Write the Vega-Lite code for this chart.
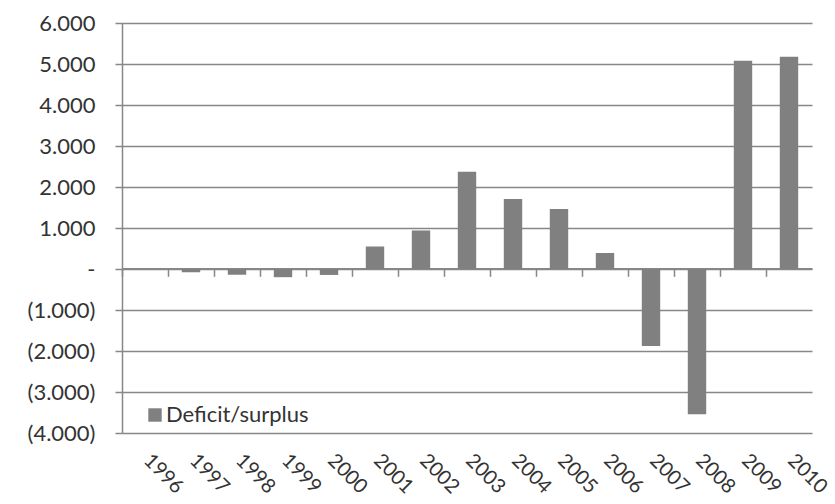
{
  "$schema": "https://vega.github.io/schema/vega-lite/v6.json",
  "autosize": "none",
  "width": 690,
  "height": 410,
  "padding": {"left": 122, "top": 23, "right": 23, "bottom": 71},
  "background": "white",
  "config": {
    "view": {"stroke": null},
    "font": "Lato",
    "axis": {"labelFont": "Lato", "labelColor": "#333333", "labelFontSize": 22}
  },
  "data": {
    "values": [
      {"year": "1996", "value": 0},
      {"year": "1997", "value": -80},
      {"year": "1998", "value": -140},
      {"year": "1999", "value": -200},
      {"year": "2000", "value": -145},
      {"year": "2001", "value": 550},
      {"year": "2002", "value": 940},
      {"year": "2003", "value": 2370},
      {"year": "2004", "value": 1710},
      {"year": "2005", "value": 1465},
      {"year": "2006", "value": 390},
      {"year": "2007", "value": -1880},
      {"year": "2008", "value": -3540},
      {"year": "2009", "value": 5080},
      {"year": "2010", "value": 5175}
    ]
  },
  "layer": [
    {
      "mark": {"type": "bar", "opacity": 0},
      "encoding": {
        "x": {
          "field": "year", "type": "nominal", "sort": null,
          "scale": {"paddingInner": 0, "paddingOuter": 0},
          "axis": {
            "orient": "bottom", "offset": -164.7, "labels": false, "title": null,
            "grid": false, "bandPosition": 0, "domain": true, "domainColor": "#878787",
            "domainWidth": 1.5, "ticks": true, "tickColor": "#878787", "tickWidth": 1.5, "tickSize": 8
          }
        },
        "y": {"field": "value", "type": "quantitative"}
      }
    },
    {
      "mark": {"type": "bar", "color": "#808080"},
      "encoding": {
        "x": {
          "field": "year", "type": "nominal", "sort": null,
          "scale": {"paddingInner": 0.6, "paddingOuter": 0.3},
          "axis": {
            "orient": "bottom", "title": null, "labelAngle": 45, "labelPadding": 17,
            "labelOffset": 9, "labelFontSize": 20,
            "domain": false, "ticks": false, "grid": false
          }
        },
        "y": {
          "field": "value", "type": "quantitative",
          "scale": {"domain": [-4000, 6000], "nice": false, "zero": false},
          "axis": {
            "title": null,
            "values": [-4000, -3000, -2000, -1000, 0, 1000, 2000, 3000, 4000, 5000, 6000],
            "grid": true, "gridColor": "#878787", "gridWidth": 1.5,
            "domain": true, "domainColor": "#878787", "domainWidth": 1.5,
            "ticks": true, "tickColor": "#878787", "tickWidth": 1.5, "tickSize": 7,
            "labelPadding": 20,
            "labelExpr": "datum.value == 0 ? '-\u2002\u2009' : datum.value < 0 ? '(' + replace(format(-datum.value, ',.0f'), ',', '.') + ')' : replace(format(datum.value, ',.0f'), ',', '.') + '\u2009'"
          }
        },
        "color": {
          "datum": "Deficit/surplus",
          "type": "nominal",
          "scale": {"range": ["#808080"]},
          "legend": {
            "title": null, "orient": "none", "legendX": 22, "legendY": 381,
            "symbolType": "square", "symbolSize": 180, "symbolStrokeWidth": 0,
            "labelFont": "Lato", "labelFontSize": 22, "labelColor": "#333333",
            "labelOffset": 0, "padding": 0
          }
        }
      }
    }
  ],
  "resolve": {"scale": {"x": "independent"}, "axis": {"x": "independent"}}
}
